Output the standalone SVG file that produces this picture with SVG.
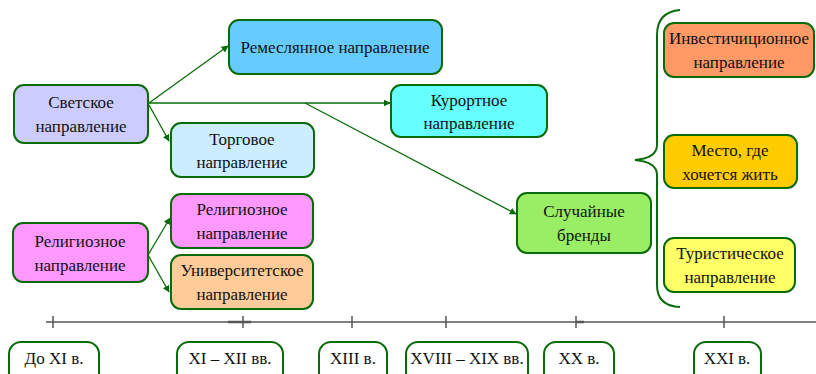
<svg xmlns="http://www.w3.org/2000/svg" width="816" height="374" viewBox="0 0 816 374">
<defs>
<style>
.n{stroke:#0a6b0a;stroke-width:2}
text{font-family:'Liberation Serif','Times New Roman',Times,Tinos,'Noto Serif','Nimbus Roman','Nimbus Roman No9 L',FreeSerif,'DejaVu Serif',Georgia,serif;font-size:17px;fill:#111;text-anchor:middle}
.c{stroke:#0a6b0a;stroke-width:1.3;fill:none}
.tl{fill:none;stroke:#0a6b0a;stroke-width:2}
.ax{stroke:#555;stroke-width:1.5}
</style>
<marker id="ah" viewBox="0 0 10 10" refX="9" refY="5" markerWidth="7" markerHeight="7" orient="auto" markerUnits="userSpaceOnUse">
<path d="M0,0 L10,5 L0,10 z" fill="#0a6b0a"/>
</marker>
</defs>
<rect width="816" height="374" fill="#fff"/>

<g id="connectors">
<line class="c" x1="149" y1="103" x2="228" y2="46" marker-end="url(#ah)"/>
<line class="c" x1="149" y1="103" x2="390" y2="103" marker-end="url(#ah)"/>
<line class="c" x1="149" y1="105" x2="169" y2="141" marker-end="url(#ah)"/>
<line class="c" x1="305" y1="103" x2="516" y2="214" marker-end="url(#ah)"/>
<line class="c" x1="148" y1="255" x2="170" y2="218" marker-end="url(#ah)"/>
<line class="c" x1="148" y1="255" x2="169" y2="292" marker-end="url(#ah)"/>
<path class="c" style="stroke-width:2" d="M680,10 Q657,12 657,35 L657,145 Q657,158 635,160 Q657,162 657,175 L657,285 Q657,306 680,307"/>
</g>

<g id="svetskoe"><rect class="n" x="14" y="85" width="134" height="58" rx="10" fill="#ccccff"/><text x="81" y="108">Светское</text><text x="81" y="132">направление</text></g>
<g id="torgovoe"><rect class="n" x="171" y="123" width="143" height="54" rx="10" fill="#ccecff"/><text x="242" y="145">Торговое</text><text x="242" y="168">направление</text></g>
<g id="remeslennoe"><rect class="n" x="229" y="20" width="213" height="54" rx="10" fill="#66ccff"/><text x="335" y="53">Ремеслянное направление</text></g>
<g id="kurortnoe"><rect class="n" x="391" y="85" width="156" height="52" rx="10" fill="#66ffff"/><text x="469" y="106">Курортное</text><text x="469" y="129">направление</text></g>
<g id="sluchainye"><rect class="n" x="517" y="193" width="134" height="60" rx="10" fill="#99ee66"/><text x="584" y="217">Случайные</text><text x="584" y="241">бренды</text></g>
<g id="religioznoe1"><rect class="n" x="13" y="223" width="135" height="59" rx="10" fill="#ff99ff"/><text x="80" y="247">Религиозное</text><text x="80" y="271">направление</text></g>
<g id="religioznoe2"><rect class="n" x="171" y="194" width="142" height="54" rx="10" fill="#ff99ff"/><text x="242" y="215">Религиозное</text><text x="242" y="239">направление</text></g>
<g id="universitetskoe"><rect class="n" x="171" y="255" width="142" height="54" rx="10" fill="#ffcc99"/><text x="242" y="276">Университетское</text><text x="242" y="300">направление</text></g>
<g id="investicionnoe"><rect class="n" x="664" y="23" width="150" height="54" rx="10" fill="#ff9966"/><text x="739" y="44">Инвестичиционное</text><text x="739" y="68">направление</text></g>
<g id="mesto"><rect class="n" x="664" y="135" width="133" height="53" rx="10" fill="#ffcc00"/><text x="730" y="156">Место, где</text><text x="730" y="180">хочется жить</text></g>
<g id="turisticheskoe"><rect class="n" x="664" y="238" width="131" height="54" rx="10" fill="#ffff66"/><text x="730" y="259">Туристическое</text><text x="730" y="283">направление</text></g>

<g id="timeline">
<line class="ax" x1="46" y1="322" x2="816" y2="322"/>
<line class="ax" style="stroke-width:2.5" x1="228" y1="322" x2="251" y2="322"/>
<line class="ax" style="stroke-width:2.5" x1="576" y1="322" x2="584" y2="322"/>
<g class="ax" stroke-width="1.2">
<line x1="53" y1="316" x2="53" y2="328"/>
<line x1="243" y1="316" x2="243" y2="328"/>
<line x1="352" y1="316" x2="352" y2="328"/>
<line x1="446" y1="316" x2="446" y2="328"/>
<line x1="576" y1="316" x2="576" y2="328"/>
<line x1="724" y1="316" x2="724" y2="328"/>
</g>
</g>

<g id="t1"><rect class="tl" x="9" y="342" width="90" height="44" rx="12"/><text x="54" y="364">До XI в.</text></g>
<g id="t2"><rect class="tl" x="177" y="342" width="106" height="44" rx="12"/><text x="230" y="364">XI – XII вв.</text></g>
<g id="t3"><rect class="tl" x="319" y="342" width="68" height="44" rx="12"/><text x="353" y="364">XIII в.</text></g>
<g id="t4"><rect class="tl" x="406" y="342" width="122" height="44" rx="12"/><text x="467" y="364">XVIII – XIX вв.</text></g>
<g id="t5"><rect class="tl" x="544" y="342" width="70" height="44" rx="12"/><text x="579" y="364">XX в.</text></g>
<g id="t6"><rect class="tl" x="694" y="342" width="67" height="44" rx="12"/><text x="727" y="364">XXI в.</text></g>
</svg>
